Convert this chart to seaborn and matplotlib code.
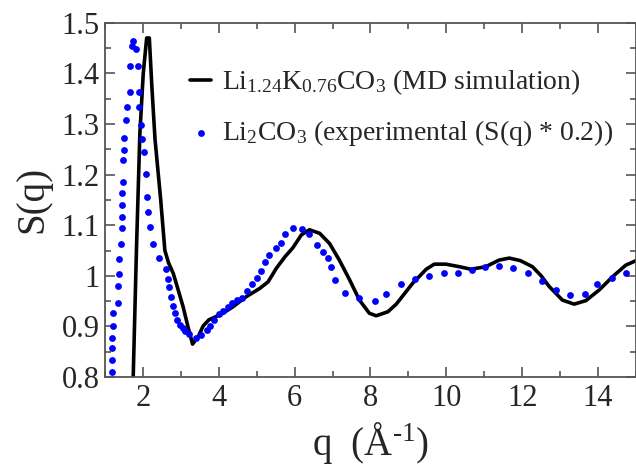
import numpy as np
import pandas as pd
import matplotlib
matplotlib.use("Agg")
import matplotlib.pyplot as plt
import seaborn as sns
from matplotlib.ticker import MultipleLocator, FormatStrFormatter

# MD simulation curve, Li1.24K0.76CO3
q_md = [1.70, 1.745, 1.83, 1.92, 2.01, 2.10, 2.17, 2.24, 2.32, 2.47, 2.58, 2.68, 2.80,
        2.90, 3.06, 3.19, 3.31, 3.46, 3.59, 3.74, 3.89, 4.11, 4.38, 4.73, 5.08, 5.30,
        5.52, 5.75, 5.95, 6.18, 6.39, 6.66, 6.92, 7.18, 7.45, 7.71, 7.97, 8.15, 8.46,
        8.68, 8.90, 9.11, 9.47, 9.68, 9.99, 10.34, 10.65, 11.04, 11.39, 11.66, 11.95,
        12.27, 12.50, 12.71, 13.06, 13.37, 13.68, 14.03, 14.38, 14.73, 15.0]
s_md = [0.70, 0.80, 1.05, 1.28, 1.40, 1.47, 1.47, 1.37, 1.27, 1.15, 1.05, 1.025, 1.005,
        0.98, 0.939, 0.899, 0.865, 0.880, 0.901, 0.913, 0.918, 0.926, 0.939, 0.959, 0.975,
        0.988, 1.015, 1.038, 1.055, 1.081, 1.091, 1.084, 1.064, 1.031, 0.992, 0.952,
        0.926, 0.921, 0.929, 0.944, 0.965, 0.985, 1.013, 1.023, 1.023, 1.018, 1.013,
        1.018, 1.031, 1.035, 1.030, 1.018, 1.000, 0.979, 0.952, 0.944, 0.951, 0.972,
        0.998, 1.021, 1.030]

# experimental Li2CO3, S(q)*0.2
q_exp = [1.18, 1.18, 1.19, 1.19, 1.20, 1.20, 1.35, 1.35, 1.37, 1.38, 1.42, 1.44, 1.44,
         1.46, 1.44, 1.48, 1.48, 1.51, 1.51, 1.55, 1.57, 1.66, 1.66, 1.72, 1.745, 1.81,
         1.86, 1.895, 1.895, 1.94, 1.965, 2.03, 2.07, 2.10, 2.14, 2.18, 2.27, 2.43, 2.60,
         2.65, 2.69, 2.73, 2.80, 2.84, 2.90, 2.97, 3.06, 3.11, 3.22, 3.39, 3.54, 3.68,
         3.78, 3.88, 4.01, 4.11, 4.24, 4.36, 4.49, 4.62, 4.75, 4.89, 5.02, 5.12, 5.23,
         5.32, 5.50, 5.63, 5.74, 5.96, 6.20, 6.37, 6.59, 6.75, 6.88, 6.97, 7.07, 7.34,
         7.69, 8.13, 8.41, 8.81, 9.18, 9.55, 9.93, 10.30, 10.67, 11.03, 11.39, 11.77,
         12.14, 12.51, 12.89, 13.26, 13.66, 13.98, 14.36, 14.73]
s_exp = [0.810, 0.834, 0.857, 0.878, 0.901, 0.926, 0.947, 0.979, 1.003, 1.033, 1.063,
         1.094, 1.117, 1.139, 1.163, 1.186, 1.228, 1.249, 1.272, 1.308, 1.333, 1.364,
         1.414, 1.455, 1.464, 1.448, 1.414, 1.363, 1.333, 1.298, 1.271, 1.244, 1.201,
         1.155, 1.127, 1.096, 1.063, 1.035, 1.013, 0.993, 0.977, 0.959, 0.940, 0.926,
         0.913, 0.903, 0.896, 0.891, 0.885, 0.878, 0.883, 0.893, 0.901, 0.913, 0.924,
         0.931, 0.938, 0.946, 0.952, 0.957, 0.969, 0.983, 0.996, 1.010, 1.028, 1.041,
         1.054, 1.064, 1.082, 1.095, 1.093, 1.082, 1.061, 1.048, 1.035, 1.017, 0.992,
         0.967, 0.956, 0.950, 0.964, 0.983, 0.994, 1.000, 1.005, 1.006, 1.012, 1.017,
         1.019, 1.015, 1.006, 0.990, 0.971, 0.962, 0.964, 0.983, 0.996, 1.005]

md = pd.DataFrame({"q": q_md, "S": s_md})
exp = pd.DataFrame({"q": q_exp, "S": s_exp})

sns.set_style("ticks")
plt.rcParams["font.family"] = ["Liberation Serif", "DejaVu Serif"]
plt.rcParams["mathtext.fontset"] = "custom"
plt.rcParams["mathtext.rm"] = "Liberation Serif"
plt.rcParams["mathtext.it"] = "Liberation Serif:italic"

fig = plt.figure(figsize=(6.36, 4.66), dpi=100)
ax = fig.add_axes([0.165, 0.191, 0.835, 0.76])

sns.lineplot(data=md, x="q", y="S", ax=ax, color="black", lw=2.6, sort=False,
             label=r"Li$_{1.24}$K$_{0.76}$CO$_3$ (MD simulation)")
sns.scatterplot(data=exp, x="q", y="S", ax=ax, color="#0000ff", s=24, linewidth=0,
                label=r"Li$_2$CO$_3$ (experimental (S(q) * 0.2))", zorder=3)

ax.set_xlim(1, 15)
ax.set_ylim(0.8, 1.5)
ax.xaxis.set_major_locator(MultipleLocator(2))
ax.xaxis.set_minor_locator(MultipleLocator(1))
ax.yaxis.set_major_locator(MultipleLocator(0.1))
ax.yaxis.set_minor_locator(MultipleLocator(0.05))
ax.yaxis.set_major_formatter(FormatStrFormatter("%g"))
ax.xaxis.set_major_formatter(FormatStrFormatter("%g"))

ax.tick_params(which="both", direction="in", top=True, right=True, color="#555555", width=1.2)
ax.tick_params(which="major", length=7)
ax.tick_params(which="minor", length=4)
ax.tick_params(axis="x", labelsize=22, pad=5)
ax.tick_params(axis="y", labelsize=22, pad=4)
for sp in ax.spines.values():
    sp.set_color("#555555")
    sp.set_linewidth(1.3)

ax.set_xlabel(r"q  (Å$^{\text{-1}}$)", fontsize=28, labelpad=5)
ax.set_ylabel("S(q)", fontsize=28, labelpad=7)

ax.legend(loc="upper left", bbox_to_anchor=(0.14, 0.905), frameon=False, fontsize=20,
          handlelength=0.75, handletextpad=0.4, labelspacing=0.75, borderaxespad=0)

fig.savefig("out.png", dpi=100)
